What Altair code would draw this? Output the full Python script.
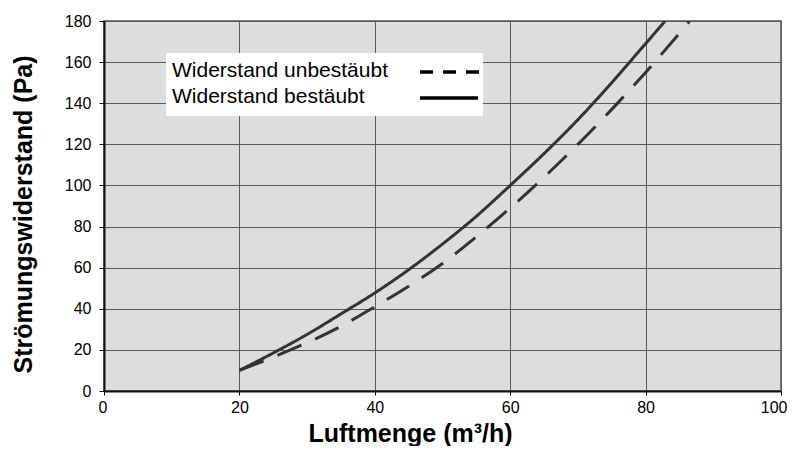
import altair as alt
import pandas as pd

# Curve values
x_bestaeubt = [20, 25, 30, 35, 40, 45, 50, 55, 60, 65, 70, 75, 80, 82.9]
y_bestaeubt = [10, 18.5, 27.5, 37.5, 47.7, 59, 71.5, 85, 100, 115.5, 132, 150, 169, 180]

x_unbestaeubt = [20, 25, 30, 35, 40, 45, 50, 55, 60, 65, 70, 75, 80, 84.6, 86.5]
y_unbestaeubt = [10, 16.5, 23.5, 31.5, 41, 51, 62, 75, 89, 104, 120, 137, 155, 172.5, 180]

series_names = ["Widerstand unbestäubt", "Widerstand bestäubt"]
x_ticks = [0, 20, 40, 60, 80, 100]
y_ticks = [0, 20, 40, 60, 80, 100, 120, 140, 160, 180]

FONT = "Liberation Sans"

df = pd.concat([
    pd.DataFrame({"x": x_unbestaeubt, "y": y_unbestaeubt, "series": series_names[0]}),
    pd.DataFrame({"x": x_bestaeubt, "y": y_bestaeubt, "series": series_names[1]}),
])

x_enc = alt.X(
    "x:Q",
    scale=alt.Scale(domain=[0, 100], nice=False),
    axis=alt.Axis(
        values=x_ticks, title="Luftmenge (m³/h)", labelPadding=4, tickSize=4,
        labelFlush=True, labelFlushOffset=6, labelOverlap=False,
        titleX=306, titleY=50, titleBaseline="alphabetic", titleAlign="center",
        titleFontSize=25,
    ),
)
y_enc = alt.Y(
    "y:Q",
    scale=alt.Scale(domain=[0, 180], nice=False),
    axis=alt.Axis(
        values=y_ticks, title="Strömungswiderstand (Pa)", labelPadding=8, tickSize=5,
        labelFlush=False, labelOverlap=False,
        titleX=-81, titleY=193, titleBaseline="middle", titleAlign="center", titleAngle=-90,
    ),
)

lines = alt.Chart(df).mark_line(
    color="#333333", strokeWidth=3, clip=True, interpolate="monotone"
).encode(
    x=x_enc,
    y=y_enc,
    strokeDash=alt.StrokeDash(
        "series:N",
        scale=alt.Scale(domain=series_names, range=[[26, 15], [1, 0]]),
        legend=None,
    ),
    detail="series:N",
    order="x:Q",
)

one = pd.DataFrame({"a": [0]})

legend_box = alt.Chart(one).mark_rect(fill="white").encode(
    x=alt.value(62), x2=alt.value(379), y=alt.value(32), y2=alt.value(95)
)

legend_layers = [legend_box]
text_y = [56, 82]
line_y = [51, 77]
line_x2 = [376, 374]
dashes = [[13, 10], [1, 0]]
for i, name in enumerate(series_names):
    legend_layers.append(
        alt.Chart(one).mark_text(
            text=name, font=FONT, fontSize=21, align="left", baseline="alphabetic", color="black"
        ).encode(x=alt.value(68), y=alt.value(text_y[i]))
    )
    legend_layers.append(
        alt.Chart(one).mark_rule(color="black", strokeWidth=3.5, strokeDash=dashes[i]).encode(
            x=alt.value(316), x2=alt.value(line_x2[i]), y=alt.value(line_y[i])
        )
    )

chart = alt.layer(lines, *legend_layers).properties(
    width=677,
    height=370,
    autosize="none",
    padding={"left": 96, "top": 13, "right": 8, "bottom": 55},
).configure_view(
    fill="#dddddd", stroke="#555555", strokeWidth=1.5
).configure_axis(
    labelFont=FONT, labelFontSize=16, labelColor="black",
    tickColor="black", domainColor="#111111", domainWidth=2,
    gridColor="#5a5a5a", gridWidth=1, grid=True,
    titleFont=FONT, titleFontSize=25, titleFontWeight="bold", titleColor="black",
)

chart.save("out.html", embed_options={"renderer": "svg", "actions": False})
